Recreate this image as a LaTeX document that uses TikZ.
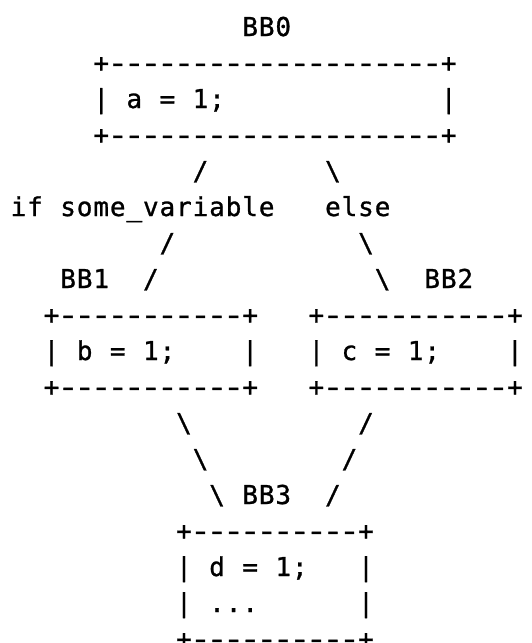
\documentclass[tikz,border=0pt]{standalone}
\usepackage{fontspec}
\setmonofont[FakeBold=1]{DejaVu Sans Mono}
\usepackage{graphicx}
\usepackage{tikz}

% one character per fixed cell, so the art stays on a grid;
% the hyphen is widened a little so the box edges read as lines
\def\dashch{-}
\makeatletter
\newcommand\cells[1]{\@tfor\cellch:=#1\do{%
  \makebox[16.55pt][c]{\ifx\cellch\dashch\scalebox{1.35}[1]{-}\else\cellch\fi}}}
\makeatother

\tikzset{
  ascii/.style={anchor=base west, inner sep=0pt, font=\ttfamily\fontsize{26}{36}\selectfont},
}

\begin{document}
\begin{tikzpicture}[x=16.55pt, y=-36pt]
\clip (-10pt,0pt) rectangle (521pt,-643pt);

% BB0
\node[ascii] (lbl0) at (14,1) {\cells{BB0}};
\node[ascii] (top0) at (5,2) {\cells{+--------------------+}};
\node[ascii] (body0) at (5,3) {\cells{|~a~=~1;~~~~~~~~~~~~~|}};
\node[ascii] (bot0) at (5,4) {\cells{+--------------------+}};

% branches out of BB0
\node[ascii] (l1) at (11,5) {\cells{/}};
\node[ascii] (r1) at (19,5) {\cells{\textbackslash}};
\node[ascii] (cond) at (0,6) {\cells{if~some\_variable}};
\node[ascii] (other) at (19,6) {\cells{else}};
\node[ascii] (l2) at (9,7) {\cells{/}};
\node[ascii] (r2) at (21,7) {\cells{\textbackslash}};
\node[ascii] (lbl1) at (3,8) {\cells{BB1}};
\node[ascii] (l3) at (8,8) {\cells{/}};
\node[ascii] (r3) at (22,8) {\cells{\textbackslash}};
\node[ascii] (lbl2) at (25,8) {\cells{BB2}};

% BB1 and BB2
\node[ascii] (top1) at (2,9) {\cells{+-----------+}};
\node[ascii] (body1) at (2,10) {\cells{|~b~=~1;~~~~|}};
\node[ascii] (bot1) at (2,11) {\cells{+-----------+}};
\node[ascii] (top2) at (18,9) {\cells{+-----------+}};
\node[ascii] (body2) at (18,10) {\cells{|~c~=~1;~~~~|}};
\node[ascii] (bot2) at (18,11) {\cells{+-----------+}};

% joining into BB3
\node[ascii] (jl1) at (10,12) {\cells{\textbackslash}};
\node[ascii] (jr1) at (21,12) {\cells{/}};
\node[ascii] (jl2) at (11,13) {\cells{\textbackslash}};
\node[ascii] (jr2) at (20,13) {\cells{/}};
\node[ascii] (jl3) at (12,14) {\cells{\textbackslash}};
\node[ascii] (lbl3) at (14,14) {\cells{BB3}};
\node[ascii] (jr3) at (19,14) {\cells{/}};

% BB3
\node[ascii] (top3) at (10,15) {\cells{+----------+}};
\node[ascii] (body3) at (10,16) {\cells{|~d~=~1;~~~|}};
\node[ascii] (rest3) at (10,17) {\cells{|~...~~~~~~|}};
\node[ascii] (bot3) at (10,18) {\cells{+----------+}};
\end{tikzpicture}
\end{document}
